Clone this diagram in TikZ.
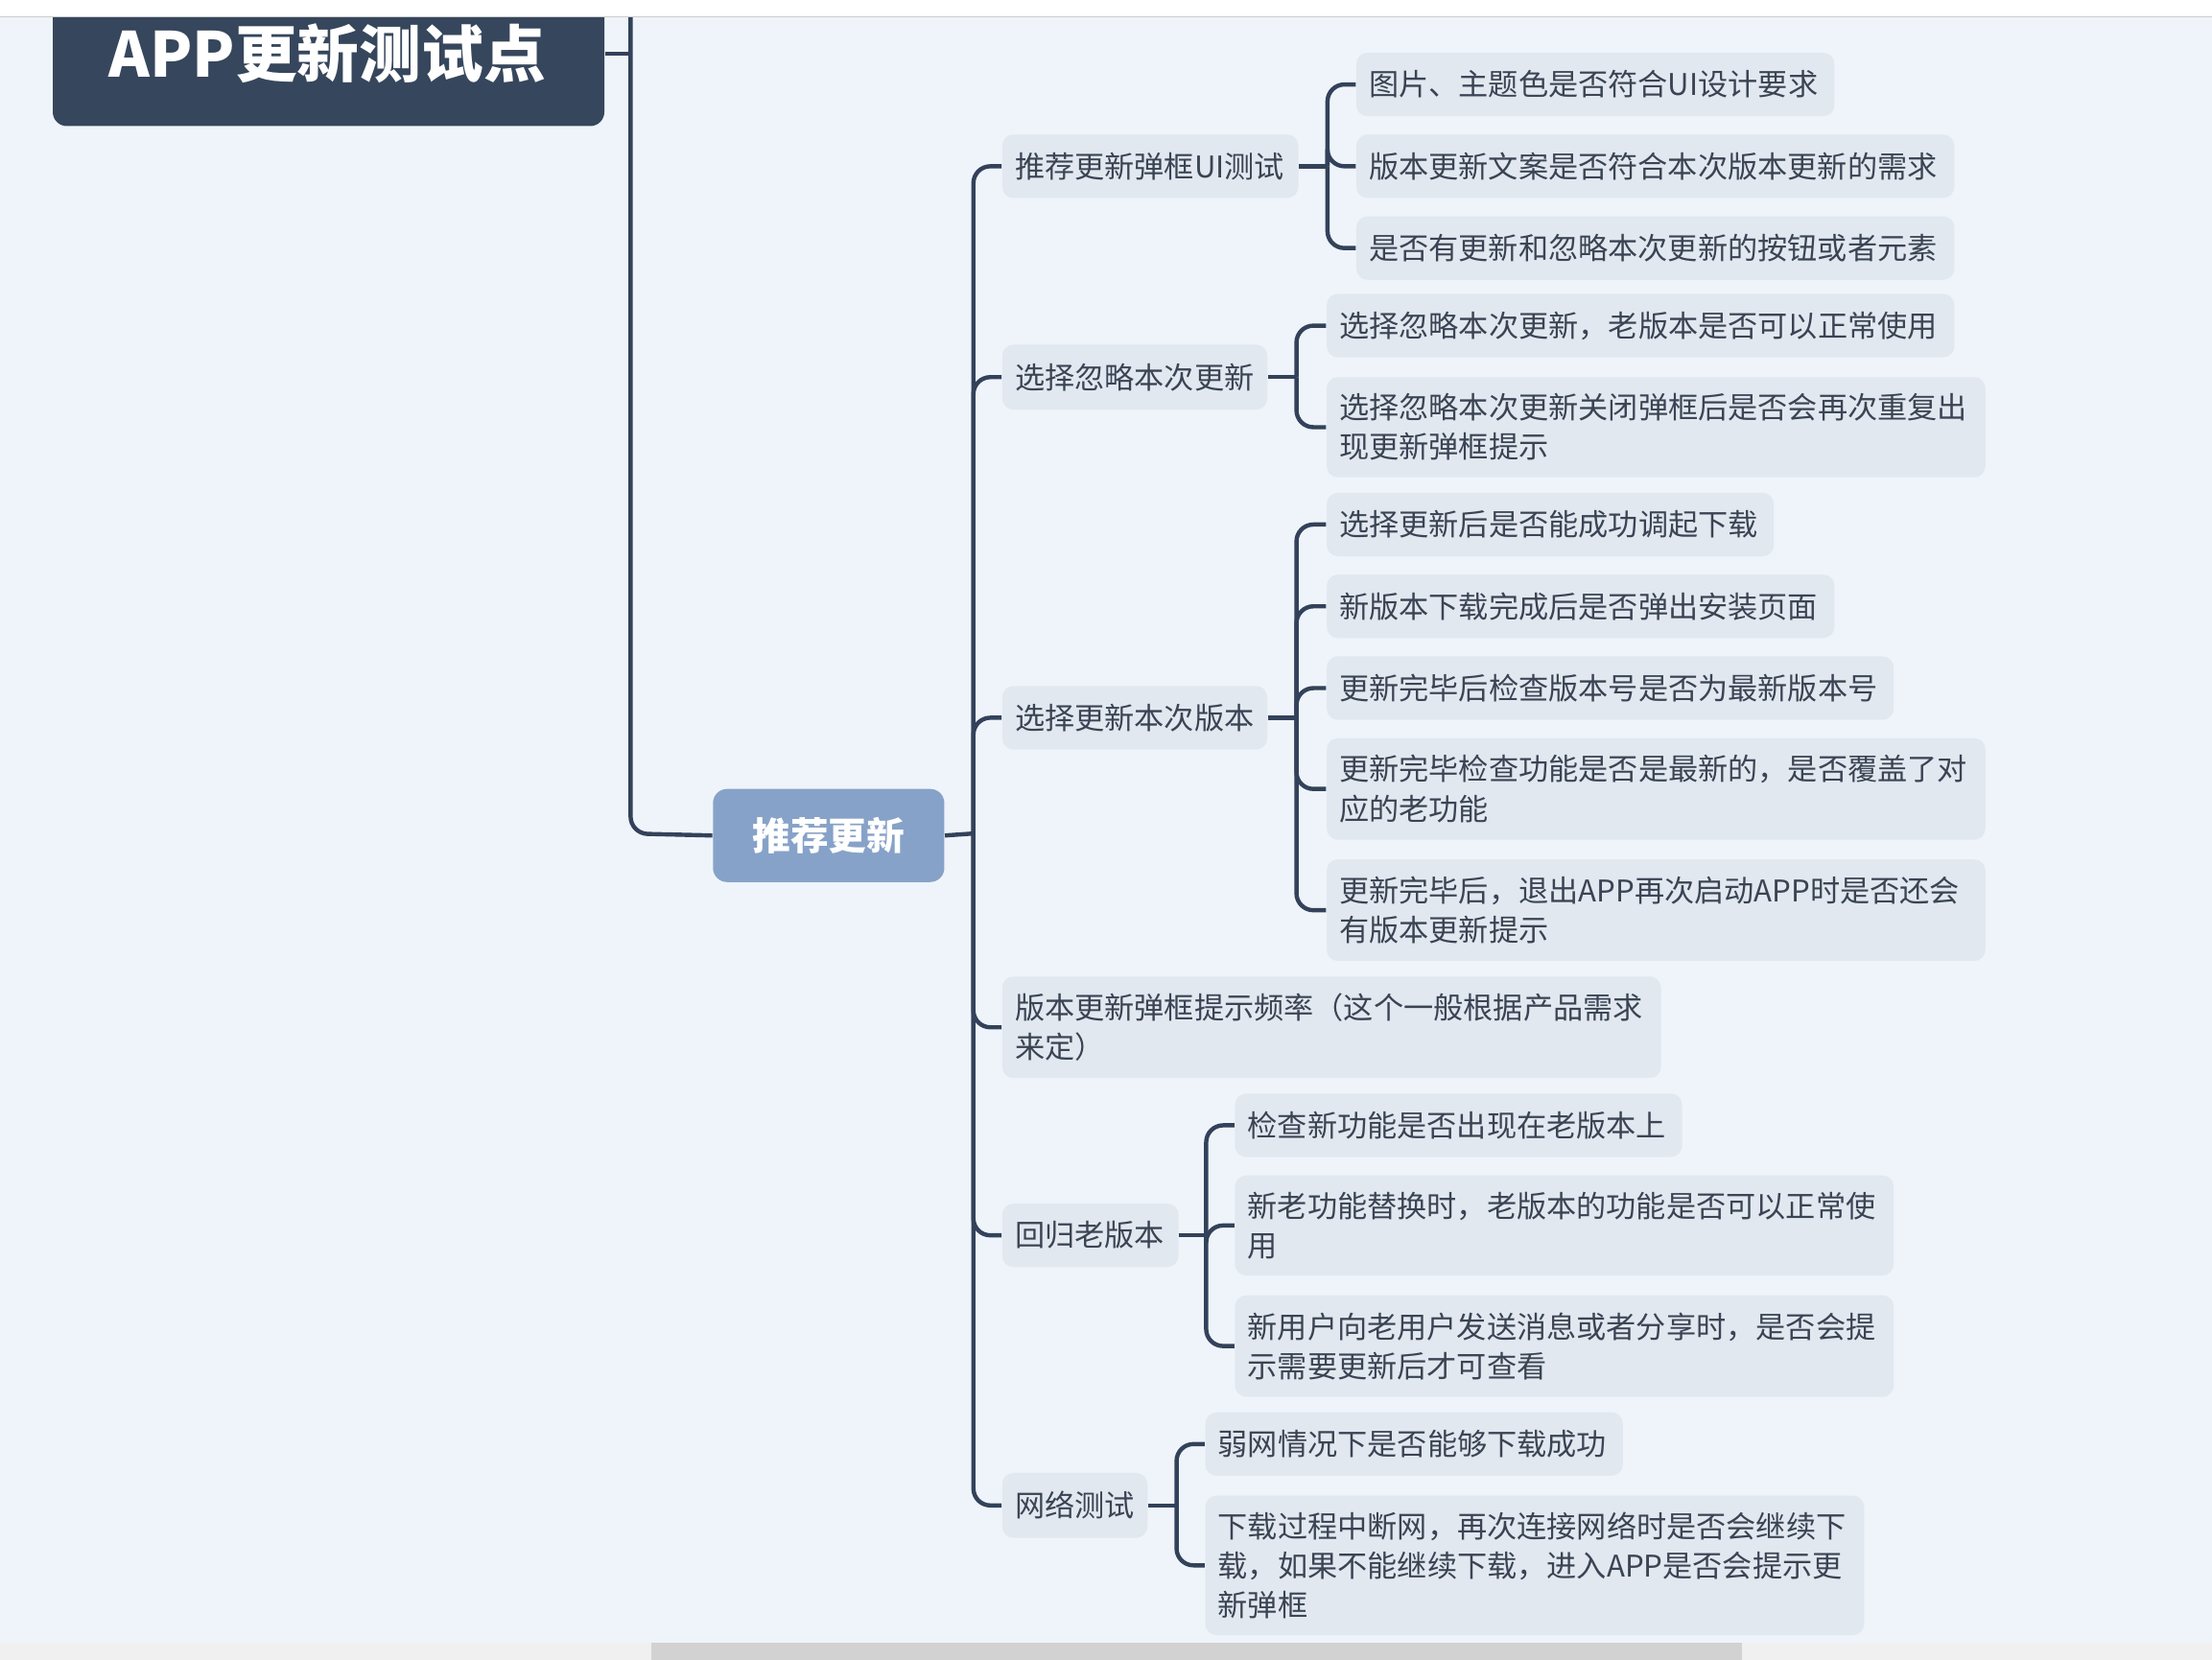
\documentclass[tikz,border=0pt]{standalone}
\usepackage{fontspec}
\setmainfont{Noto Sans CJK SC}
\begin{document}
\begin{tikzpicture}[x=0.5pt,y=-0.5pt,
  box/.style={fill=nodeg,rounded corners=4pt,text=txt,inner xsep=4.5pt,inner ysep=0pt,anchor=north west,align=left,font=\fontsize{10.6}{14}\selectfont},
  ln/.style={draw=lnc,line width=1.5pt,rounded corners=6pt}]
\definecolor{bg}{HTML}{EEF4FA}
\definecolor{nodeg}{HTML}{E2E8EF}
\definecolor{txt}{HTML}{3A4454}
\definecolor{lnc}{HTML}{33425A}
\definecolor{rootc}{HTML}{36465C}
\definecolor{mainc}{HTML}{87A2C8}
\fill[bg] (0,0) rectangle (1568,1177);
\useasboundingbox (0,0) rectangle (1568,1177);
\newcommand\mybox[6]{%
  \pgfmathsetlengthmacro\bw{(#5-#2)*0.5pt}%
  \pgfmathsetlengthmacro\bh{(#4-#3)*0.5pt}%
  \pgfmathsetlengthmacro\tw{(#5-#2)*0.5pt-9pt}%
  \node[box,minimum width=\bw,minimum height=\bh,text width=\tw] (#1) at (#2,#3) {#6};}
% root
\node[fill=rootc,rounded corners=5pt,anchor=north west,minimum width=195.5pt,minimum height=54.5pt,inner sep=0pt] (root) at (37,-20) {};
\node[text=white,font=\fontsize{22}{24}\bfseries\selectfont] (roott) at (232,38) {APP更新测试点};
\node[fill=mainc,rounded corners=5pt,anchor=north west,minimum width=82pt,minimum height=33pt,inner sep=0pt,text=white,font=\fontsize{13.5}{15}\bfseries\selectfont] (main) at (505,559) {推荐更新};
\coordinate (rj) at (447,38);
\draw[ln] (root.east|-rj) -- (rj);
\draw[ln] (447,-5) -- (447,591) -- (main.west);
% level 2
\mybox{a}{710}{95}{140}{920}{推荐更新弹框UI测试}
\mybox{b}{710}{244}{290}{898}{选择忽略本次更新}
\mybox{c}{710}{486}{531}{898}{选择更新本次版本}
\mybox{d}{710}{692}{764}{1177}{版本更新弹框提示频率（这个一般根据产品需求\\来定）}
\mybox{e}{710}{853}{898}{835}{回归老版本}
\mybox{f}{710}{1044}{1090}{813}{网络测试}
\draw[ln] (main.east) -- (690,591);
\foreach \n in {a,b,c,d,e,f}{\draw[ln] (690,591) -- (690,0|-\n.west) -- (\n.west);}
% level 3
\mybox{a1}{961}{37}{82}{1300}{图片、主题色是否符合UI设计要求}
\mybox{a2}{961}{95}{140}{1385}{版本更新文案是否符合本次版本更新的需求}
\mybox{a3}{961}{153}{198}{1385}{是否有更新和忽略本次更新的按钮或者元素}
\mybox{b1}{940}{208}{253}{1385}{选择忽略本次更新，老版本是否可以正常使用}
\mybox{b2}{940}{267}{338}{1407}{选择忽略本次更新关闭弹框后是否会再次重复出\\现更新弹框提示}
\mybox{c1}{940}{349}{394}{1257}{选择更新后是否能成功调起下载}
\mybox{c2}{940}{407}{452}{1300}{新版本下载完成后是否弹出安装页面}
\mybox{c3}{940}{465}{510}{1342}{更新完毕后检查版本号是否为最新版本号}
\mybox{c4}{940}{523}{595}{1407}{更新完毕检查功能是否是最新的，是否覆盖了对\\应的老功能}
\mybox{c5}{940}{609}{681}{1407}{更新完毕后，退出APP再次启动APP时是否还会\\有版本更新提示}
\mybox{e1}{875}{775}{820}{1192}{检查新功能是否出现在老版本上}
\mybox{e2}{875}{833}{904}{1342}{新老功能替换时，老版本的功能是否可以正常使\\用}
\mybox{e3}{875}{918}{990}{1342}{新用户向老用户发送消息或者分享时，是否会提\\示需要更新后才可查看}
\mybox{f1}{854}{1001}{1046}{1150}{弱网情况下是否能够下载成功}
\mybox{f2}{854}{1060}{1159}{1321}{下载过程中断网，再次连接网络时是否会继续下\\载，如果不能继续下载，进入APP是否会提示更\\新弹框}
\newcommand\brk[3]{%
  \draw[ln] (#1.east) -- (#2,0|-#1.east);
  \foreach \k in {#3}{\draw[ln] (#2,0|-#1.east) -- (#2,0|-\k.west) -- (\k.west);}}
\brk{a}{941}{a1,a2,a3}
\brk{b}{919}{b1,b2}
\brk{c}{919}{c1,c2,c3,c4,c5}
\brk{e}{855}{e1,e2,e3}
\brk{f}{834}{f1,f2}
% chrome
\fill[white] (0,0) rectangle (1568,12);
\draw[gray!40] (0,12) -- (1568,12);
\fill[gray!12] (0,1165) rectangle (1568,1177);
\fill[gray!35] (462,1165) rectangle (1235,1177);
\end{tikzpicture}
\end{document}
